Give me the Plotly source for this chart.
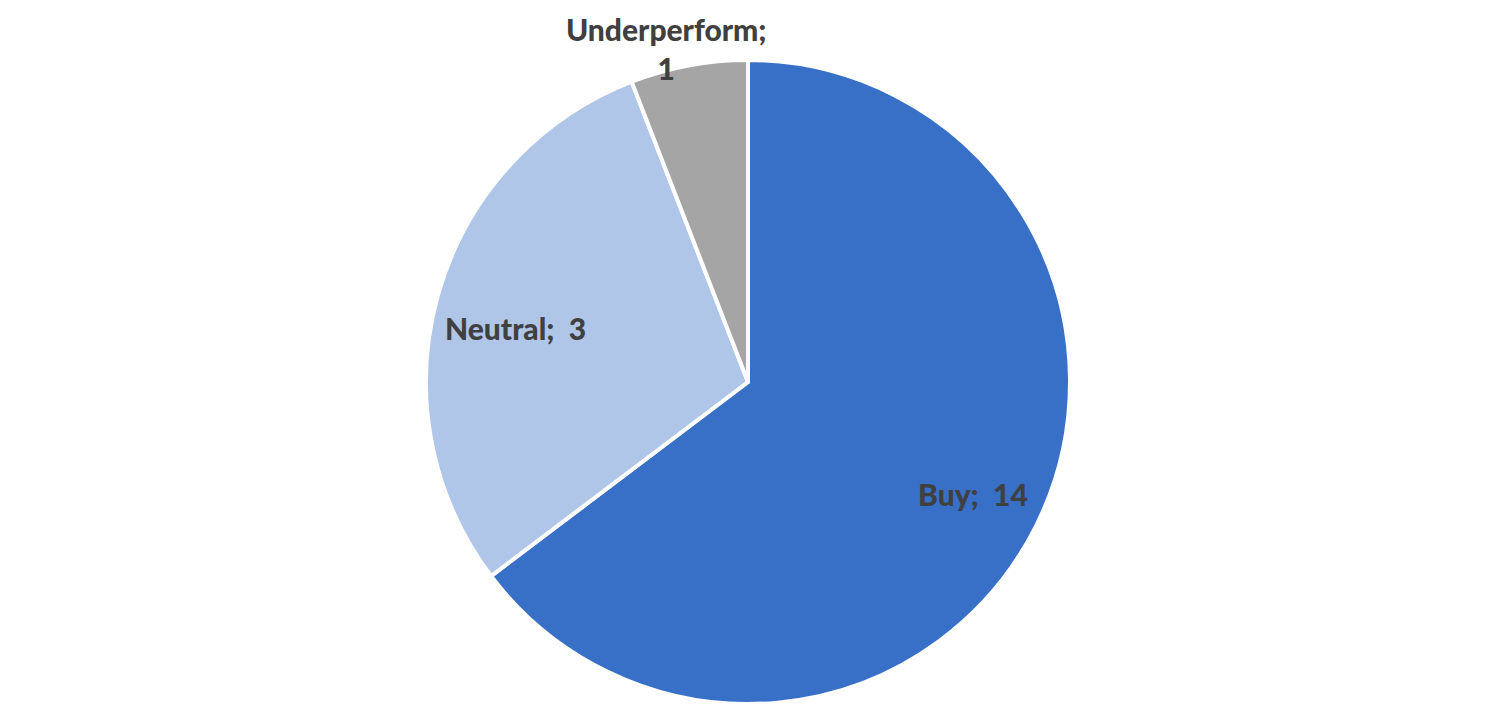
import numpy as np
import plotly.graph_objects as go

# ratings, the count shown in each label, and the slice shares as drawn
labels = ["Buy", "Neutral", "Underperform"]
counts = [14, 3, 1]
shares = [11, 5, 1]
colors = ["#3870C8", "#B0C6E8", "#A5A5A5"]
label_texts = ["Buy;  14", "Neutral;  3", "Underperform;<br>1"]

W, H = 1501, 717
margin = dict(l=0, r=21, t=52, b=21)

fig = go.Figure(go.Pie(
    labels=labels,
    values=shares,
    customdata=counts,
    sort=False,
    direction="clockwise",
    rotation=0,
    marker=dict(colors=colors, line=dict(color="white", width=4)),
    textinfo="none",
    hovertemplate="%{label}: %{customdata}<extra></extra>",
))

# data labels placed along each slice's mid angle (inside ~0.77 r, last one outside)
plot_w = W - margin["l"] - margin["r"]
plot_h = H - margin["t"] - margin["b"]
radius = min(plot_w, plot_h) / 2
cum = np.cumsum([0] + shares) / sum(shares)
mid = (cum[:-1] + cum[1:]) / 2 * 2 * np.pi
rfrac = [0.78, 0.75, 1.07]
xshift = [0, 0, -18]
yshift = [0, -12, -5]
for txt, a, f, dx, dy in zip(label_texts, mid, rfrac, xshift, yshift):
    fig.add_annotation(
        x=0.5 + radius * f * np.sin(a) / plot_w,
        y=0.5 + radius * f * np.cos(a) / plot_h,
        xref="paper", yref="paper",
        text=txt, showarrow=False,
        font=dict(family="Lato", size=30, color="#404040", weight=900),
        xanchor="center", yanchor="middle", xshift=dx, yshift=dy,
    )

fig.update_layout(
    width=W,
    height=H,
    showlegend=False,
    paper_bgcolor="white",
    plot_bgcolor="white",
    margin=margin,
)

fig.write_html("out.html")
